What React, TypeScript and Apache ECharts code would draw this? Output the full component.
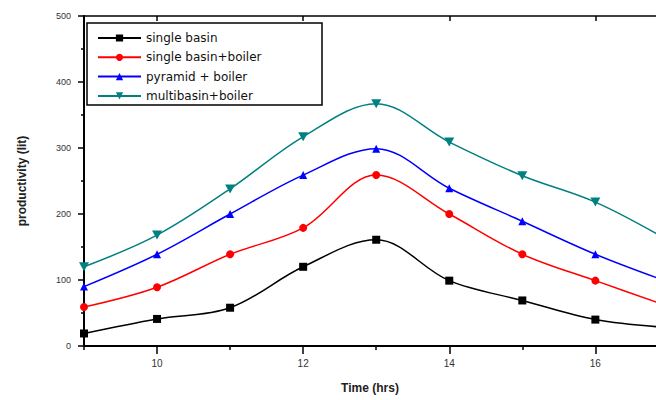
import React, { useEffect, useRef } from "react";
import * as echarts from "echarts";

const hours = [9, 10, 11, 12, 13, 14, 15, 16, 17];
const singleBasin = [19, 41, 58, 120, 161, 99, 69, 40, 28];
const singleBasinBoiler = [59, 89, 139, 179, 259, 200, 139, 99, 60];
const pyramidBoiler = [90, 139, 200, 259, 299, 239, 189, 139, 97];
const multibasinBoiler = [120, 168, 238, 317, 367, 309, 258, 218, 160];
const seriesNames = ["single basin", "single basin+boiler", "pyramid + boiler", "multibasin+boiler"];
const xMajor = [10, 12, 14, 16];
const xMinor = [9, 11, 13, 15];
const xMaxVisible = 16.83;

const colors = ["#000000", "#ff0000", "#0000ff", "#008080"];
const symbols = ["rect", "circle", "triangle", "path://M0,0L10,0L5,9Z"];

export default function App() {
  const ref = useRef<HTMLDivElement>(null);
  useEffect(() => {
    if (!ref.current) return;
    const chart = echarts.init(ref.current, undefined, { renderer: "svg" });
    const datasets = [singleBasin, singleBasinBoiler, pyramidBoiler, multibasinBoiler];
    const font = "Liberation Sans";
    chart.setOption({
      animation: false,
      backgroundColor: "#ffffff",
      grid: { left: 84, top: 16, right: 0, bottom: 54 },
      legend: {
        orient: "vertical",
        left: 87,
        top: 23,
        padding: [9, 10, 5, 10],
        itemWidth: 43,
        itemHeight: 9,
        itemGap: 7.3,
        textStyle: { fontFamily: "DejaVu Sans", fontSize: 12, color: "#111" },
        data: seriesNames,
      },
      graphic: [
        {
          type: "rect",
          shape: { x: 87, y: 23, width: 235, height: 82 },
          style: { fill: "none", stroke: "#000", lineWidth: 1.5 },
          z: 100,
        },
      ],
      xAxis: [
        {
          type: "value",
          min: 9,
          max: xMaxVisible,
          position: "bottom",
          name: "Time (hrs)",
          nameLocation: "middle",
          nameGap: 36,
          nameTextStyle: { fontFamily: font, fontSize: 12, fontWeight: "bold", color: "#222" },
          axisLine: { show: true, onZero: false, lineStyle: { color: "#000", width: 2 } },
          axisTick: { show: true, inside: false, length: 8, customValues: xMajor, lineStyle: { color: "#000", width: 1.5 } },
          axisLabel: { customValues: xMajor, margin: 12, fontFamily: font, fontSize: 10, color: "#333" },
          splitLine: { show: false },
        },
        {
          type: "value",
          min: 9,
          max: xMaxVisible,
          position: "bottom",
          axisLine: { show: false },
          axisTick: { show: true, inside: false, length: 4, customValues: xMinor, lineStyle: { color: "#000", width: 1.5 } },
          axisLabel: { show: false },
          splitLine: { show: false },
        },
        {
          type: "value",
          min: 9,
          max: xMaxVisible,
          position: "top",
          axisLine: { show: true, lineStyle: { color: "#000", width: 1.5 } },
          axisTick: { show: true, inside: true, length: 5, customValues: xMajor, lineStyle: { color: "#000", width: 1.5 } },
          axisLabel: { show: false },
          splitLine: { show: false },
        },
      ],
      yAxis: {
        type: "value",
        min: 0,
        max: 500,
        interval: 100,
        name: "productivity (lit)",
        nameLocation: "middle",
        nameRotate: 90,
        nameGap: 56,
        nameTextStyle: { fontFamily: font, fontSize: 12, fontWeight: "bold", color: "#222" },
        axisLine: { show: true, lineStyle: { color: "#000", width: 2 } },
        axisTick: { show: true, inside: false, length: 6, lineStyle: { color: "#000", width: 1.5 } },
        minorTick: { show: true, splitNumber: 2, length: 3, lineStyle: { color: "#000", width: 1.5 } },
        axisLabel: { margin: 13, fontFamily: font, fontSize: 9, color: "#333" },
        splitLine: { show: false },
      },
      series: datasets.map((d, i) => ({
        name: seriesNames[i],
        type: "line",
        xAxisIndex: 0,
        data: hours.map((h, j) => [h, d[j]]),
        smooth: 0.35,
        clip: true,
        symbol: symbols[i],
        symbolSize: i === 3 ? [10, 9] : 8,
        showSymbol: true,
        color: colors[i],
        lineStyle: { color: colors[i], width: 1.5 },
        itemStyle: { color: colors[i] },
      })),
    });
    return () => chart.dispose();
  }, []);
  return <div ref={ref} style={{ width: 656, height: 400, position: "absolute", left: 0, top: 0 }} />;
}
